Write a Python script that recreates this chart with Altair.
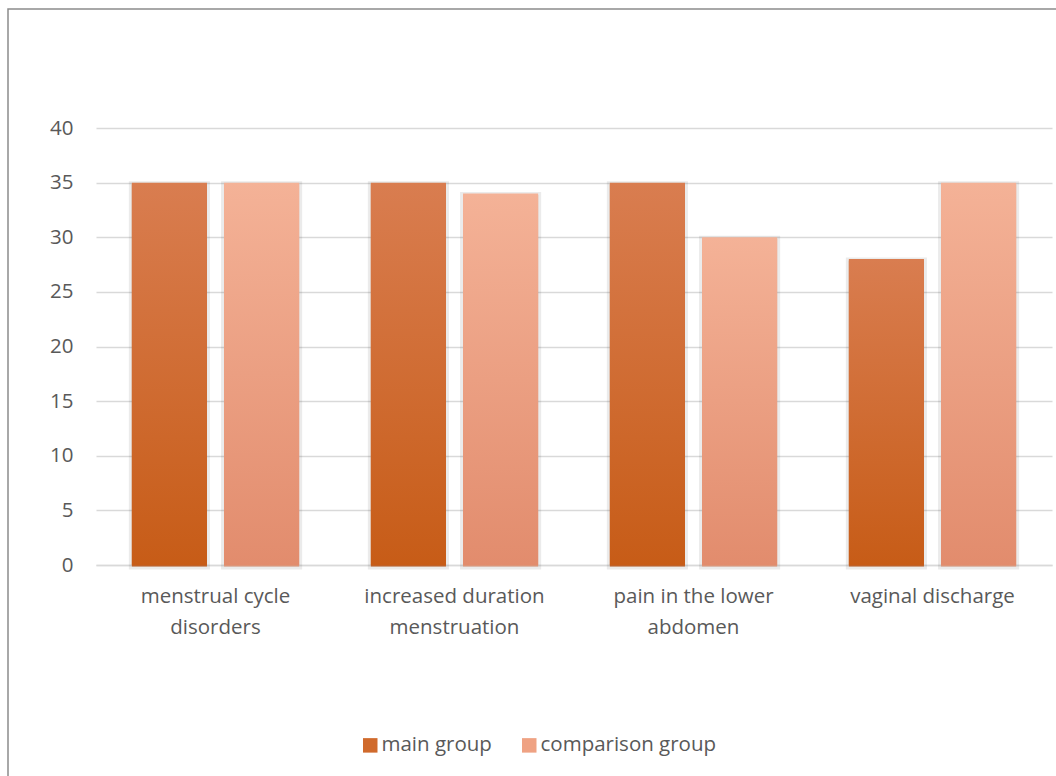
import altair as alt
import pandas as pd

# Categories (line breaks mark where the axis label wraps)
categories = [
    "menstrual cycle\ndisorders",
    "increased duration\nmenstruation",
    "pain in the lower\nabdomen",
    "vaginal discharge",
]
series = ["main group", "comparison group"]
main_values = [35, 35, 35, 28]
comparison_values = [35, 34, 30, 35]
y_ticks = [0, 5, 10, 15, 20, 25, 30, 35, 40]

rows = []
for cat, m, c in zip(categories, main_values, comparison_values):
    rows.append({"category": cat, "series": series[0], "value": m})
    rows.append({"category": cat, "series": series[1], "value": c})
df = pd.DataFrame(rows)

FONT = "Open Sans"
FS = 20.5
TEXT = "#595959"
GRID = "#D9D9D9"

main_grad = {
    "gradient": "linear", "x1": 0, "y1": 0, "x2": 0, "y2": 1,
    "stops": [{"offset": 0, "color": "#D97D50"}, {"offset": 1, "color": "#C75C17"}],
}
comp_grad = {
    "gradient": "linear", "x1": 0, "y1": 0, "x2": 0, "y2": 1,
    "stops": [{"offset": 0, "color": "#F4B297"}, {"offset": 1, "color": "#E28C6D"}],
}

x_enc = alt.X(
    "category:N",
    sort=categories,
    scale=alt.Scale(paddingInner=0.3, paddingOuter=0.15),
    axis=alt.Axis(
        title=None,
        labelAngle=0,
        labelExpr="split(datum.label, '\\n')",
        labelFont=FONT,
        labelFontSize=FS,
        labelColor=TEXT,
        labelPadding=21,
        labelLineHeight=31,
        labelBaseline="top",
        labelLimit=0,
        domain=True,
        domainColor=GRID,
        domainWidth=1.5,
        ticks=False,
        grid=False,
    ),
)
xo_enc = alt.XOffset(
    "series:N", sort=series, scale=alt.Scale(paddingInner=0.185, paddingOuter=0)
)
y_enc = alt.Y(
    "value:Q",
    scale=alt.Scale(domain=[0, 40], nice=False),
    axis=alt.Axis(
        title=None,
        values=y_ticks,
        grid=True,
        gridColor=GRID,
        gridWidth=1.5,
        domain=False,
        ticks=False,
        labelFont=FONT,
        labelFontSize=FS,
        labelColor=TEXT,
        labelPadding=23,
    ),
)

# Soft shadow under each bar; also carries the legend
shadow = alt.Chart(df).mark_bar(
    stroke="#000000", strokeOpacity=0.08, strokeWidth=6, yOffset=1.5
).encode(
    x=x_enc,
    xOffset=xo_enc,
    y=y_enc,
    color=alt.Color(
        "series:N",
        sort=series,
        scale=alt.Scale(domain=series, range=["#D06A2C", "#EFA283"]),
        legend=alt.Legend(
            title=None,
            orient="none",
            legendX=264,
            legendY=607,
            direction="horizontal",
            symbolType="square",
            symbolSize=210,
            symbolStrokeWidth=0,
            labelFont=FONT,
            labelFontSize=FS,
            labelColor=TEXT,
            labelOffset=1,
            labelLimit=0,
            columnPadding=27,
        ),
    ),
)

bars = alt.Chart(df).mark_bar().encode(
    x=x_enc,
    xOffset=xo_enc,
    y=y_enc,
    color=alt.condition(
        "datum.series == 'main group'", alt.value(main_grad), alt.value(comp_grad)
    ),
)

frame = alt.Chart(pd.DataFrame({"f": [0]})).mark_rect(
    fill=None, stroke="#8C8C8C", strokeWidth=1.5
).encode(
    x=alt.value(-88), x2=alt.value(1100), y=alt.value(-119), y2=alt.value(800)
)

chart = (
    alt.layer(shadow, bars, frame)
    .properties(
        width=956,
        height=437,
        autosize=alt.AutoSizeParams(type="none"),
        padding={"left": 96, "top": 128, "right": 4, "bottom": 211},
        background="white",
    )
    .configure_view(stroke=None)
)

chart.save("out.html", embed_options={"renderer": "svg", "actions": False})
